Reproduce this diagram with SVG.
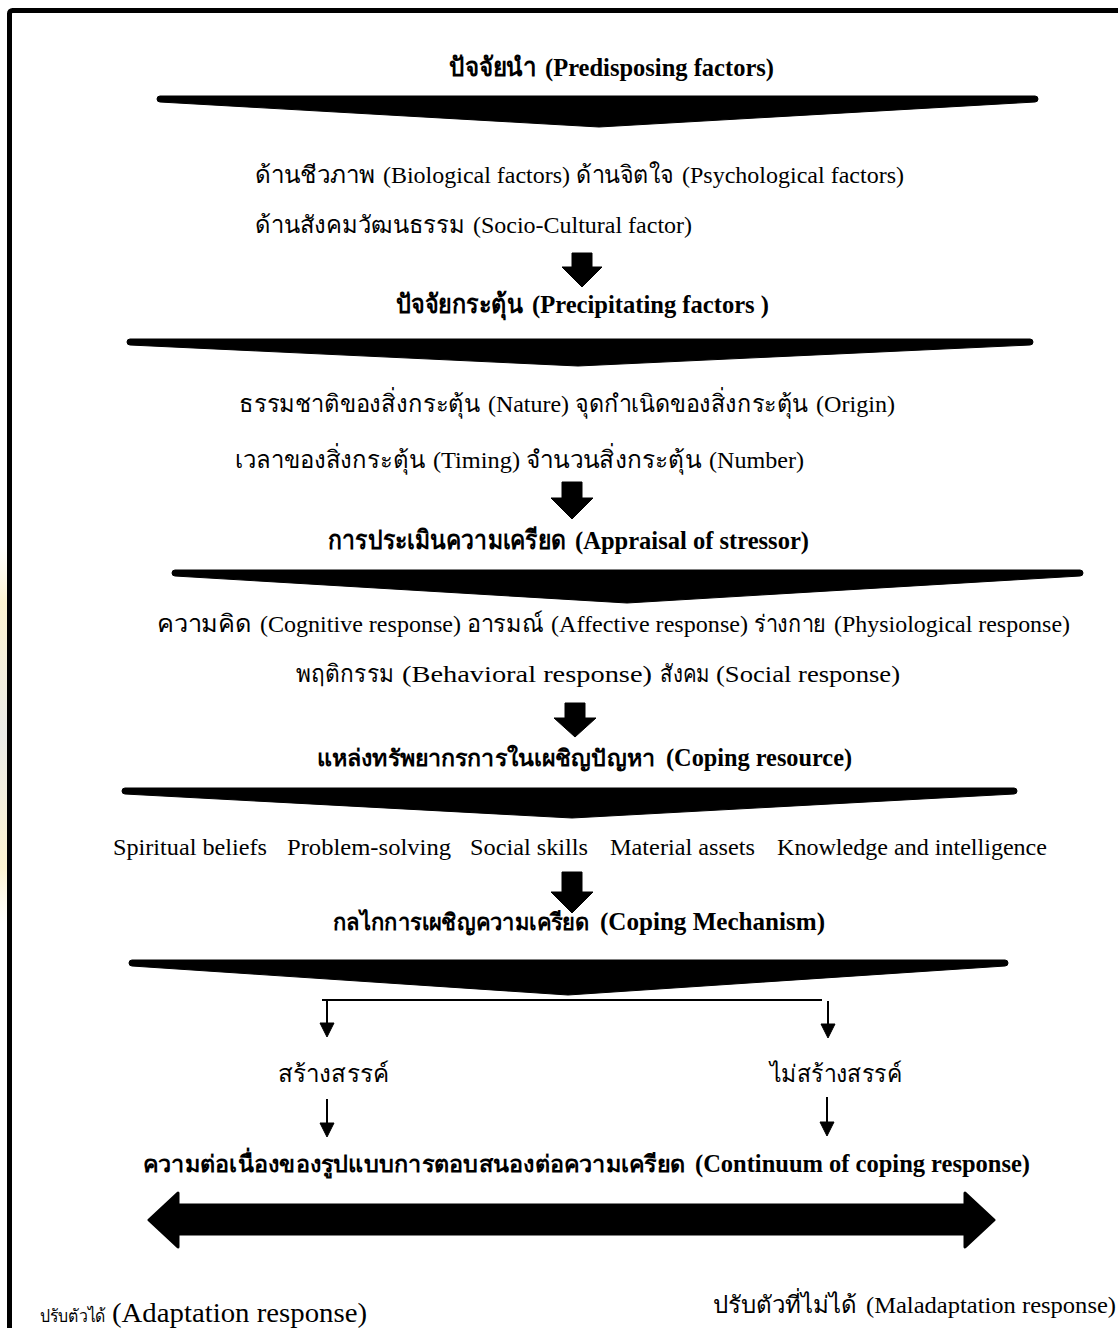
<svg xmlns="http://www.w3.org/2000/svg" width="1118" height="1328" viewBox="0 0 1118 1328">
<style>
text{font-family:"Liberation Serif","DejaVu Serif",serif;font-size:24px;fill:#000}
.b{font-weight:bold;font-size:26px}
.big{font-size:28px}
.th{font-size:23px}
.ths{font-size:18px}
.funnel,.blk{fill:#000;stroke:#000;stroke-width:1;stroke-linejoin:round}
.dbl{fill:#000;stroke:#000;stroke-width:3;stroke-linejoin:round}
.thin{stroke:#000;stroke-width:2;fill:none}
</style>
<defs>
<linearGradient id="ystrip" x1="0" y1="0" x2="0" y2="1">
<stop offset="0" stop-color="#fdf6dc" stop-opacity="0"/>
<stop offset="0.15" stop-color="#fdf3d0"/>
<stop offset="0.5" stop-color="#ebebe8"/>
<stop offset="0.85" stop-color="#fdf3d0"/>
<stop offset="1" stop-color="#fdf6dc" stop-opacity="0"/>
</linearGradient>
</defs>
<rect x="0" y="545" width="7" height="380" fill="url(#ystrip)"/>
<rect id="frame" x="9.5" y="10.5" width="1200" height="1400" rx="3" fill="none" stroke="#000" stroke-width="5"/>

<g id="predisposing">
<text class="b" y="76"><tspan x="449" textLength="88" lengthAdjust="spacingAndGlyphs">ปัจจัยนำ</tspan><tspan x="545" textLength="229" lengthAdjust="spacingAndGlyphs">(Predisposing factors)</tspan></text>
<path class="funnel" d="M160,96 L1035,96 A3,3 0 0 1 1035,102 L599,127 L160,102 A3,3 0 0 1 160,96 Z"/>
<text y="183"><tspan x="255" textLength="120" lengthAdjust="spacingAndGlyphs">ด้านชีวภาพ</tspan><tspan x="383" textLength="187" lengthAdjust="spacingAndGlyphs">(Biological factors)</tspan><tspan x="576" textLength="98" lengthAdjust="spacingAndGlyphs">ด้านจิตใจ</tspan><tspan x="682" textLength="222" lengthAdjust="spacingAndGlyphs">(Psychological factors)</tspan></text>
<text y="233"><tspan x="255" textLength="210" lengthAdjust="spacingAndGlyphs">ด้านสังคมวัฒนธรรม</tspan><tspan x="473" textLength="219" lengthAdjust="spacingAndGlyphs">(Socio-Cultural factor)</tspan></text>
</g>

<g id="precipitating">
<text class="b" y="313"><tspan x="396" textLength="127" lengthAdjust="spacingAndGlyphs">ปัจจัยกระตุ้น</tspan><tspan x="532" textLength="237" lengthAdjust="spacingAndGlyphs">(Precipitating factors )</tspan></text>
<path class="funnel" d="M130,339 L1030,339 A3,3 0 0 1 1030,345 L578,366 L130,345 A3,3 0 0 1 130,339 Z"/>
<text y="412"><tspan x="239" textLength="241" lengthAdjust="spacingAndGlyphs">ธรรมชาติของสิ่งกระตุ้น</tspan><tspan x="488" textLength="81" lengthAdjust="spacingAndGlyphs">(Nature)</tspan><tspan x="575" textLength="233" lengthAdjust="spacingAndGlyphs">จุดกำเนิดของสิ่งกระตุ้น</tspan><tspan x="816" textLength="79" lengthAdjust="spacingAndGlyphs">(Origin)</tspan></text>
<text y="468"><tspan x="235" textLength="190" lengthAdjust="spacingAndGlyphs">เวลาของสิ่งกระตุ้น</tspan><tspan x="433" textLength="87" lengthAdjust="spacingAndGlyphs">(Timing)</tspan><tspan x="526" textLength="175" lengthAdjust="spacingAndGlyphs">จำนวนสิ่งกระตุ้น</tspan><tspan x="709" textLength="95" lengthAdjust="spacingAndGlyphs">(Number)</tspan></text>
</g>

<g id="appraisal">
<text class="b" y="549"><tspan x="328" textLength="238" lengthAdjust="spacingAndGlyphs">การประเมินความเครียด</tspan><tspan x="575" textLength="234" lengthAdjust="spacingAndGlyphs">(Appraisal of stressor)</tspan></text>
<path class="funnel" d="M175,570 L1080,570 A3,3 0 0 1 1080,576 L627,603 L175,576 A3,3 0 0 1 175,570 Z"/>
<text y="632"><tspan x="157" textLength="95" lengthAdjust="spacingAndGlyphs">ความคิด</tspan><tspan x="260" textLength="201" lengthAdjust="spacingAndGlyphs">(Cognitive response)</tspan><tspan x="467" textLength="76" lengthAdjust="spacingAndGlyphs">อารมณ์</tspan><tspan x="551" textLength="197" lengthAdjust="spacingAndGlyphs">(Affective response)</tspan><tspan x="754" textLength="72" lengthAdjust="spacingAndGlyphs">ร่างกาย</tspan><tspan x="834" textLength="236" lengthAdjust="spacingAndGlyphs">(Physiological response)</tspan></text>
<text y="682"><tspan x="296" textLength="98" lengthAdjust="spacingAndGlyphs">พฤติกรรม</tspan><tspan x="402" textLength="250" lengthAdjust="spacingAndGlyphs">(Behavioral response)</tspan><tspan x="660" textLength="50" lengthAdjust="spacingAndGlyphs">สังคม</tspan><tspan x="716" textLength="184" lengthAdjust="spacingAndGlyphs">(Social response)</tspan></text>
</g>

<g id="resource">
<text class="b" y="766"><tspan class="th" x="317" textLength="338" lengthAdjust="spacingAndGlyphs">แหล่งทรัพยากรการในเผชิญปัญหา</tspan><tspan x="666" textLength="186" lengthAdjust="spacingAndGlyphs">(Coping resource)</tspan></text>
<path class="funnel" d="M125,788 L1014,788 A3,3 0 0 1 1014,794 L572,818 L125,794 A3,3 0 0 1 125,788 Z"/>
<text y="855"><tspan x="113" textLength="154" lengthAdjust="spacingAndGlyphs">Spiritual beliefs</tspan><tspan x="287" textLength="164" lengthAdjust="spacingAndGlyphs">Problem-solving</tspan><tspan x="470" textLength="118" lengthAdjust="spacingAndGlyphs">Social skills</tspan><tspan x="610" textLength="145" lengthAdjust="spacingAndGlyphs">Material assets</tspan><tspan x="777" textLength="270" lengthAdjust="spacingAndGlyphs">Knowledge and intelligence</tspan></text>
</g>

<g id="mechanism">
<text class="b" y="930"><tspan class="th" x="333" textLength="256" lengthAdjust="spacingAndGlyphs">กลไกการเผชิญความเครียด</tspan><tspan x="600" textLength="225" lengthAdjust="spacingAndGlyphs">(Coping Mechanism)</tspan></text>
<path class="funnel" d="M132,960 L1005,960 A3,3 0 0 1 1005,966 L568,995 L132,966 A3,3 0 0 1 132,960 Z"/>
</g>

<g id="constructive">
<text x="278" y="1082" textLength="111" lengthAdjust="spacingAndGlyphs">สร้างสรรค์</text>
</g>
<g id="nonconstructive">
<text x="770" y="1082" textLength="132" lengthAdjust="spacingAndGlyphs">ไม่สร้างสรรค์</text>
</g>

<g id="continuum">
<text class="b" y="1172"><tspan class="th" x="143" textLength="542" lengthAdjust="spacingAndGlyphs">ความต่อเนื่องของรูปแบบการตอบสนองต่อความเครียด</tspan><tspan x="695" textLength="335" lengthAdjust="spacingAndGlyphs">(Continuum of coping response)</tspan></text>
<path class="dbl" d="M149,1220 L178,1193 L178,1205 L965,1205 L965,1193 L994,1220 L965,1247 L965,1234 L178,1234 L178,1247 Z"/>
</g>
<g id="adaptation">
<text y="1322"><tspan class="ths" x="40" textLength="66" lengthAdjust="spacingAndGlyphs">ปรับตัวได้</tspan><tspan class="big" x="112" textLength="255" lengthAdjust="spacingAndGlyphs">(Adaptation response)</tspan></text>
</g>
<g id="maladaptation">
<text y="1313"><tspan x="713" textLength="144" lengthAdjust="spacingAndGlyphs">ปรับตัวที่ไม่ได้</tspan><tspan x="866" textLength="250" lengthAdjust="spacingAndGlyphs">(Maladaptation response)</tspan></text>
</g>

<g id="connectors">
<path class="blk" d="M572,253 H592 V267 H602 L582,287 L562,267 H572 Z"/>
<path class="blk" d="M562,482 H582 V498 H593 L572,519 L551,498 H562 Z"/>
<path class="blk" d="M565,703 H585 V718 H596 L575,737 L554,718 H565 Z"/>
<path class="blk" d="M562,872 H582 V892 H593 L572,913 L551,892 H562 Z"/>
<path class="thin" d="M322,1000 H822"/>
<path class="thin" d="M327,1000 V1025"/>
<path class="blk" d="M320,1023 H334 L327,1037 Z"/>
<path class="thin" d="M828,1001 V1025"/>
<path class="blk" d="M821,1024 H835 L828,1038 Z"/>
<path class="thin" d="M327,1099 V1125"/>
<path class="blk" d="M320,1123 H334 L327,1137 Z"/>
<path class="thin" d="M827,1097 V1124"/>
<path class="blk" d="M820,1122 H834 L827,1136 Z"/>
</g>
</svg>
